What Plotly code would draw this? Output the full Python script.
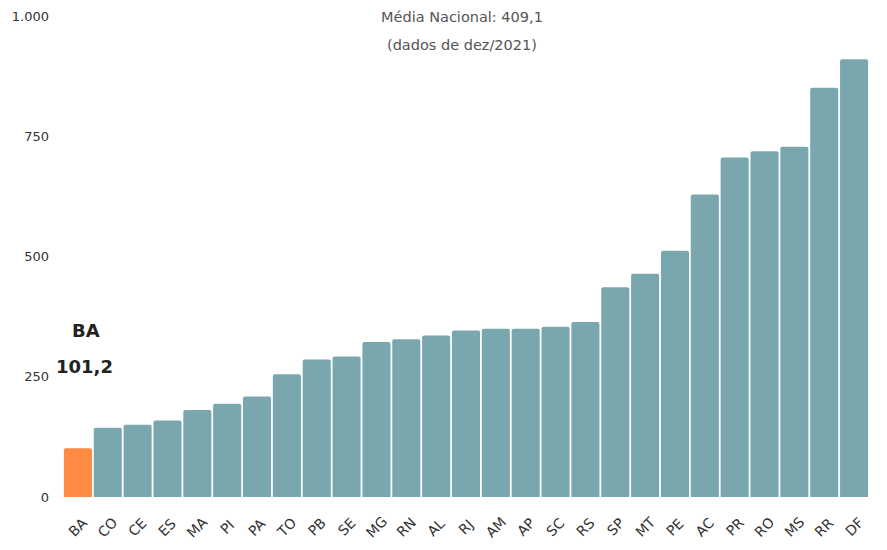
import plotly.graph_objects as go

estados = ["BA", "CO", "CE", "ES", "MA", "PI", "PA", "TO", "PB", "SE", "MG", "RN", "AL", "RJ",
           "AM", "AP", "SC", "RS", "SP", "MT", "PE", "AC", "PR", "RO", "MS", "RR", "DF"]
valores = [101.2, 144, 150, 159, 181, 194, 209, 255, 286, 292, 322, 328, 336, 346,
           350, 350, 354, 364, 436, 464, 512, 629, 706, 719, 728, 851, 910]
y_ticks = [0, 250, 500, 750, 1000]
y_tick_text = ["0", "250", "500", "750", "1.000"]
destaque = "BA"
destaque_valor = "101,2"
titulo_1 = "Média Nacional: 409,1"
titulo_2 = "(dados de dez/2021)"

TEAL = "#7AA7AE"
ORANGE = "#FD8B42"
FONT = "'DejaVu Sans', sans-serif"

colors = [ORANGE if e == destaque else TEAL for e in estados]

fig = go.Figure()
fig.add_trace(go.Bar(
    x=estados, y=valores,
    marker=dict(color=colors, line=dict(width=0), cornerradius=2),
    hoverinfo="x+y",
))

annotations = []
for e in estados:
    annotations.append(dict(
        x=e, y=0, xref="x", yref="y", text=e, showarrow=False,
        textangle=-45, yshift=-30, xshift=0,
        font=dict(family=FONT, size=14, color="#333333"),
    ))

annotations += [
    dict(x=0.5, y=1.0, xref="paper", yref="paper", text=titulo_1, showarrow=False,
         xanchor="center", yanchor="middle", xshift=-4, yshift=-1,
         font=dict(family=FONT, size=14.5, color="#555555")),
    dict(x=0.5, y=1.0, xref="paper", yref="paper", text=titulo_2, showarrow=False,
         xanchor="center", yanchor="middle", xshift=-4, yshift=-29,
         font=dict(family=FONT, size=14.5, color="#555555")),
    dict(x=destaque, y=347, xref="x", yref="y", text="<b>" + destaque + "</b>", showarrow=False,
         xanchor="center", yanchor="middle", xshift=8,
         font=dict(family=FONT, size=18, color="#222222")),
    dict(x=destaque, y=272, xref="x", yref="y", text="<b>" + destaque_valor + "</b>", showarrow=False,
         xanchor="center", yanchor="middle", xshift=7,
         font=dict(family=FONT, size=18, color="#222222")),
]

fig.update_layout(
    width=887, height=550,
    margin=dict(l=63, r=18, t=16, b=53, autoexpand=False),
    paper_bgcolor="white", plot_bgcolor="white",
    bargap=0.06,
    showlegend=False,
    annotations=annotations,
    xaxis=dict(range=[-0.5, len(estados) - 0.5], showticklabels=False, showgrid=False,
               zeroline=False, showline=False, ticks="", automargin=False),
    yaxis=dict(range=[0, 1000], tickvals=y_ticks, ticktext=y_tick_text,
               showgrid=False, zeroline=False, showline=False, ticks="",
               automargin=False, ticklabelstandoff=13,
               tickfont=dict(family=FONT, size=13, color="#333333")),
)

fig.write_html("out.html")
